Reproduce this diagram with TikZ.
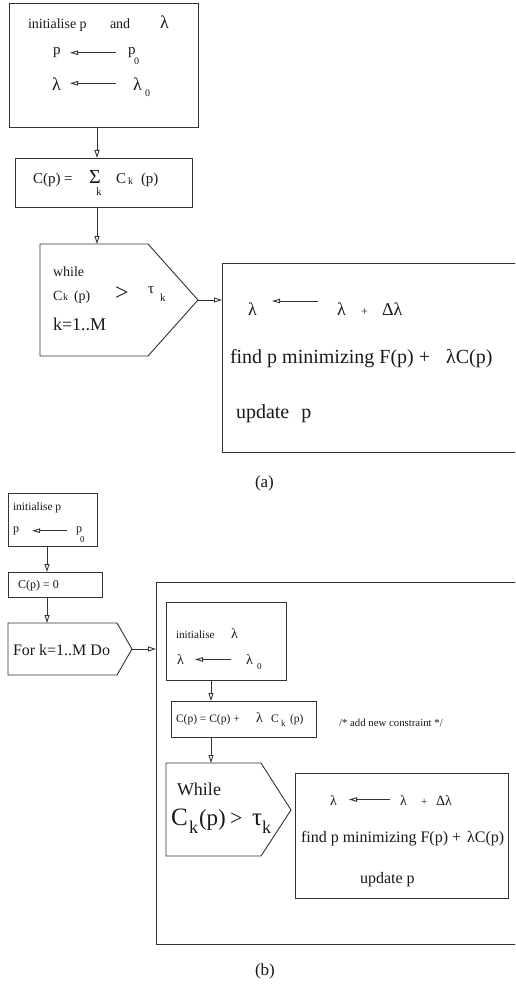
\documentclass[tikz,border=0pt]{standalone}
\usepackage{fontspec}
\setmainfont{Liberation Serif}
\usetikzlibrary{arrows.meta}
\tikzset{
 ln/.style={draw=black!80, line width=0.9pt},
 box/.style={ln, rectangle, inner sep=0pt, outer sep=0pt, anchor=north west},
 flow/.style={ln, -{Triangle[open, length=8pt, width=5pt]}},
 tarrow/.style={ln, -{Triangle[open, length=8pt, width=4.5pt]}},
 tx/.style={anchor=base west, inner sep=0pt, outer sep=0pt, text=black!90, font=\fontsize{#1}{#1}\selectfont},
}
\begin{document}
\begin{tikzpicture}[x=1pt,y=-1pt]
\clip (0,0) rectangle (515,987);
\fill[white] (0,0) rectangle (515,987);

% ---------------- (a) ----------------
\node[box, minimum width=189pt, minimum height=124pt] (A1) at (9,3) {};
\node[tx=14] (a1t) at (28,29) {initialise p};
\node[tx=14] (a1and) at (110,29) {and};
\node[tx=18] (a1lam) at (160,29) {λ};
\node[tx=15] (a1p) at (53,55) {p};
\node[tx=15] (a1pz) at (128,55) {p};
\node[tx=10] (a1pzs) at (134,65) {0};
\coordinate (a1pe) at (116,52.7); \coordinate (a1ps) at (70,52.7);
\draw[tarrow] (a1pe) -- (a1ps);
\node[tx=18] (a1l) at (52,91) {λ};
\node[tx=18] (a1lz) at (133,91) {λ};
\node[tx=10] (a1lzs) at (145,97) {0};
\coordinate (a1le) at (116,83.3); \coordinate (a1ls) at (70,83.3);
\draw[tarrow] (a1le) -- (a1ls);

\node[box, minimum width=177pt, minimum height=49pt] (A2) at (15,158) {};
\node[tx=15] (a2c) at (33,184) {C(p) =};
\node[tx=20] (a2sig) at (89,184) {Σ};
\node[tx=11] (a2k) at (96,196) {k};
\node[tx=15] (a2C) at (116,184) {C};
\node[tx=10] (a2Ck) at (128,185) {k};
\node[tx=15] (a2p) at (141,184) {(p)};

\coordinate (PAtop) at (97,244);
\coordinate (PAtip) at (198,300);
\draw[ln] (40,244) -- (148,244) -- (PAtip) -- (148,356) -- (40,356) -- cycle;
\node[tx=14] (pawhile) at (53,276) {while};
\node[tx=14] (paC) at (53,300) {C};
\node[tx=10] (paCk) at (63,300) {k};
\node[tx=14] (paCp) at (74,300) {(p)};
\node[tx=24] (pagt) at (115,300) {>};
\node[tx=15] (patau) at (148,293) {τ};
\node[tx=11] (patauk) at (160,301) {k};
\node[tx=18] (pak) at (53,330) {k=1..M};

\draw[flow] (A1.south -| PAtop) -- (A2.north -| PAtop);
\draw[flow] (A2.south -| PAtop) -- (PAtop);

\node[box, minimum width=400pt, minimum height=189pt] (A4) at (222,263) {};
\draw[flow] (PAtip) -- (PAtip -| A4.west);
\node[tx=18] (a4l) at (248,315) {λ};
\coordinate (a4ae) at (318,301); \coordinate (a4as) at (272,301);
\draw[tarrow] (a4ae) -- (a4as);
\node[tx=18] (a4l2) at (337,315) {λ};
\node[tx=12] (a4plus) at (361,315) {+};
\node[tx=18] (a4dl) at (382,315) {Δλ};
\node[tx=20] (a4find) at (230,363) {find p minimizing F(p) +\hspace{16pt}λC(p)};
\node[tx=20] (a4upd) at (236,418) {update\hspace{12pt}p};

\node[tx=17] (labA) at (255,487) {(a)};

% ---------------- (b) ----------------
\node[box, minimum width=89pt, minimum height=53pt] (B1) at (8,493) {};
\node[tx=11.5] (b1t) at (13,510) {initialise p};
\node[tx=12] (b1p) at (13,532) {p};
\node[tx=12] (b1pz) at (76,532) {p};
\node[tx=9] (b1pzs) at (80,542) {0};
\coordinate (b1ae) at (67,530.7); \coordinate (b1as) at (32,530.7);
\draw[tarrow] (b1ae) -- (b1as);

\node[box, minimum width=94pt, minimum height=25pt] (B2) at (8,572) {};
\node[tx=12] (b2t) at (18,588) {C(p) = 0};

\coordinate (PBtop) at (47,623);
\coordinate (PBtip) at (132,649);
\draw[ln] (8,623) -- (117,623) -- (PBtip) -- (117,675) -- (8,675) -- cycle;
\node[tx=16] (pbt) at (13,655) {For k=1..M Do};

\draw[flow] (B1.south -| PBtop) -- (B2.north -| PBtop);
\draw[flow] (B2.south -| PBtop) -- (PBtop);

\node[box, minimum width=400pt, minimum height=362pt] (BB) at (156,582) {};
\draw[flow] (PBtip) -- (PBtip -| BB.west);

\node[box, minimum width=120pt, minimum height=78pt] (B3) at (166,602) {};
\node[tx=11.2] (b3t) at (176,638) {initialise};
\node[tx=14] (b3tl) at (231,638) {λ};
\node[tx=14] (b3l) at (177,664) {λ};
\node[tx=14] (b3lz) at (246,664) {λ};
\node[tx=9] (b3lzs) at (257,669) {0};
\coordinate (b3ae) at (231,659.5); \coordinate (b3as) at (195,659.5);
\draw[tarrow] (b3ae) -- (b3as);

\node[box, minimum width=145pt, minimum height=36pt] (B4) at (171,701) {};
\node[tx=11.5] (b4t) at (176,722) {C(p) = C(p) +};
\node[tx=14] (b4l) at (256,722) {λ};
\node[tx=11.5] (b4C) at (271,722) {C};
\node[tx=9] (b4Ck) at (281,726) {k};
\node[tx=11.5] (b4p) at (290,722) {(p)};
\node[tx=10.8] (b4cm) at (339,726) {/* add new constraint */};

\coordinate (PCtop) at (211,763);
\coordinate (PCtip) at (291,810);
\draw[ln] (166,763) -- (261,763) -- (PCtip) -- (261,856) -- (166,856) -- cycle;
\node[tx=18] (pcw) at (177,795) {While};
\node[tx=25] (pcC) at (171,825) {C};
\node[tx=18] (pcCk) at (189,833) {k};
\node[tx=23] (pcp) at (199,825) {(p)};
\node[tx=22] (pcgt) at (230,825) {>};
\node[tx=25] (pctau) at (252,825) {τ};
\node[tx=18] (pctauk) at (262,833) {k};

\draw[flow] (B3.south -| PCtop) -- (B4.north -| PCtop);
\draw[flow] (B4.south -| PCtop) -- (PCtop);

\node[box, minimum width=213pt, minimum height=125pt] (B5) at (295,773) {};
\node[tx=14] (b5l) at (330,805) {λ};
\coordinate (b5ae) at (390,799.5); \coordinate (b5as) at (349,799.5);
\draw[tarrow] (b5ae) -- (b5as);
\node[tx=14] (b5l2) at (400,805) {λ};
\node[tx=11] (b5plus) at (421,805) {+};
\node[tx=14] (b5dl) at (436,805) {Δλ};
\node[tx=16] (b5find) at (301,842) {find p minimizing F(p) +\hspace{6pt}λC(p)};
\node[tx=16] (b5upd) at (360,883) {update p};

\node[tx=17] (labB) at (255,975) {(b)};
\end{tikzpicture}
\end{document}
